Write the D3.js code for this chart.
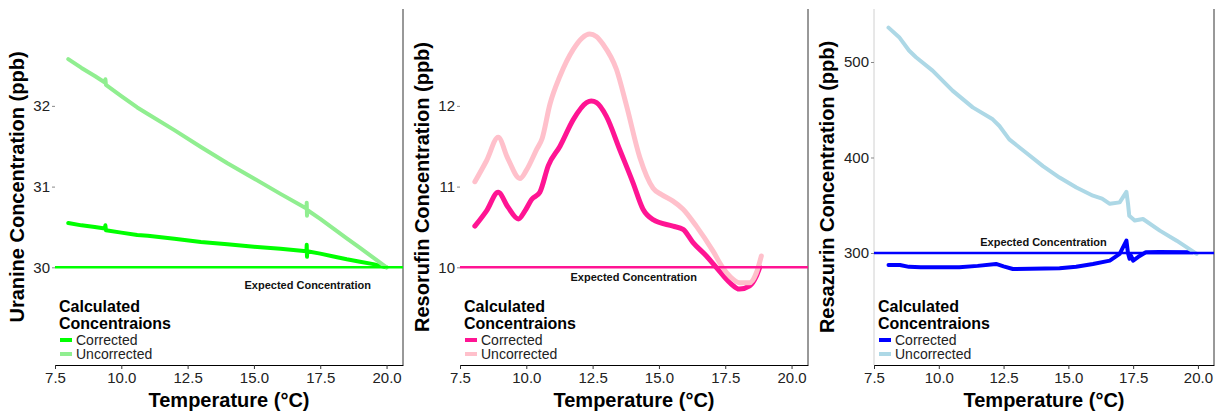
<!DOCTYPE html>
<html>
<head>
<meta charset="utf-8">
<script src="https://cdn.jsdelivr.net/npm/d3@7"></script>
<style>
    body { margin: 0; background: #fff; }
    svg { display: block; font-family: "Liberation Sans", Arial, sans-serif; }
    .tick text { font-size: 15px; fill: #222; }
</style>
</head>
<body>
<svg id="chart" width="1219" height="412"></svg>
<script>
// ---- data ----
const xTicks = [7.5, 10, 12.5, 15, 17.5, 20];
const seriesNames = ["Corrected", "Uncorrected"];

// Uranine
const uranineTemp = [8.0, 8.5, 9.0, 9.38, 9.4, 9.42, 10.0, 10.6, 11.0, 12.0, 13.0, 14.0, 15.0, 16.0, 16.98, 16.99, 17.0, 17.01, 17.5, 18.0, 18.5, 19.0, 19.5, 20.0];
const uranineCorrected = [30.55, 30.52, 30.5, 30.48, 30.52, 30.46, 30.43, 30.4, 30.39, 30.355, 30.315, 30.285, 30.255, 30.23, 30.2, 30.28, 30.13, 30.2, 30.17, 30.135, 30.1, 30.07, 30.04, 30.0];
const uranineUncorrected = [32.58, 32.47, 32.37, 32.29, 32.33, 32.26, 32.12, 31.98, 31.9, 31.7, 31.49, 31.29, 31.1, 30.91, 30.73, 30.8, 30.64, 30.71, 30.6, 30.48, 30.36, 30.24, 30.12, 30.0];
const uranineTicks = [30, 31, 32];

// Resorufin
const resorufinTempCorr = [8.06, 8.5, 8.94, 9.3, 9.7, 9.95, 10.2, 10.51, 10.83, 11.27, 11.77, 12.27, 12.45, 12.65, 13.02, 13.52, 14.02, 14.4, 14.78, 15.53, 15.91, 16.28, 16.79, 17.16, 17.67, 18.04, 18.42, 18.67, 18.8];
const resorufinCorrected = [10.51, 10.7, 10.93, 10.75, 10.6, 10.7, 10.84, 10.93, 11.26, 11.5, 11.83, 12.04, 12.06, 12.04, 11.87, 11.46, 11.05, 10.72, 10.59, 10.51, 10.47, 10.31, 10.14, 10.0, 9.81, 9.73, 9.77, 9.89, 10.0];
const resorufinTempUncorr = [8.06, 8.5, 8.94, 9.3, 9.76, 10.0, 10.39, 10.6, 10.89, 11.27, 11.77, 12.1, 12.39, 12.64, 12.9, 13.4, 13.78, 14.28, 14.78, 15.1, 15.53, 15.91, 16.41, 17.04, 17.4, 17.7, 18.04, 18.42, 18.67, 18.86];
const resorufinUncorrected = [11.06, 11.32, 11.61, 11.35, 11.1, 11.2, 11.46, 11.6, 12.02, 12.37, 12.7, 12.84, 12.89, 12.86, 12.76, 12.45, 12.0, 11.36, 10.98, 10.9, 10.82, 10.72, 10.51, 10.2, 10.0, 9.88, 9.81, 9.81, 9.93, 10.14];
const resorufinTicks = [10, 11, 12];

// Resazurin
const resazurinTempCorr = [8.06, 8.5, 8.85, 9.3, 10.79, 11.5, 12.21, 12.5, 12.86, 14.66, 15.3, 15.95, 16.6, 16.98, 17.24, 17.3, 17.36, 17.42, 17.5, 17.7, 17.99, 18.5, 19.8];
const resazurinCorrected = [287.4, 287.5, 285.5, 285, 285, 286.5, 288.5, 286, 283.2, 284, 285.5, 288.5, 292, 299, 313, 300, 294, 297, 292, 296, 300.7, 301, 300.8];
const resazurinTempUncorr = [8.06, 8.47, 8.85, 9.12, 9.76, 10.53, 11.31, 12.08, 12.34, 12.72, 13.37, 14.02, 14.66, 15.31, 15.95, 16.3, 16.6, 16.98, 17.24, 17.3, 17.35, 17.56, 17.88, 18.53, 19.18, 19.95];
const resazurinUncorrected = [536, 526, 512, 505, 491, 470, 452.5, 440, 433, 419, 405, 391, 379, 368.5, 360, 357, 351.5, 353, 364, 352, 339, 334, 335.6, 323.4, 312.9, 299];
const resazurinTicks = [300, 400, 500];

const expected = [30, 10, 300];

// ---- panel setup ----
const panels = [
    {
        left: 55, right: 403, yDomain: [28.79, 33.2], ticks: uranineTicks,
        label: "Uranine Concentration (ppb)", labelX: 17,
        colors: ["#00FF00", "#90EE90"], expected: expected[0],
        series: [[uranineTemp, uranineCorrected], [uranineTemp, uranineUncorrected]],
        note: [17.03, 29.78], leftLine: false, curve: d3.curveLinear, width: 4
    },
    {
        left: 460, right: 808, yDomain: [8.79, 13.2], ticks: resorufinTicks,
        label: "Resorufin Concentration (ppb)", labelX: 422,
        colors: ["#FF1493", "#FFC0CB"], expected: expected[1],
        series: [[resorufinTempCorr, resorufinCorrected], [resorufinTempUncorr, resorufinUncorrected]],
        note: [14.05, 9.885], leftLine: false, curve: d3.curveMonotoneX, width: 5
    },
    {
        left: 874, right: 1214, yDomain: [182.7, 555.5], ticks: resazurinTicks,
        label: "Resazurin Concentration (ppb)", labelX: 827,
        colors: ["#0000FF", "#ADD8E6"], expected: expected[2],
        series: [[resazurinTempCorr, resazurinCorrected], [resazurinTempUncorr, resazurinUncorrected]],
        note: [14.04, 311.5], leftLine: true, curve: d3.curveLinear, width: 4
    }
];

const plotTop = 9, plotBottom = 365;
const svg = d3.select("#chart");

panels.forEach(p => {
    let g = svg.append("g");

    let x = d3.scaleLinear().domain([7.5, 20.62]).range([p.left, p.right]);
    let y = d3.scaleLinear().domain(p.yDomain).range([plotBottom, plotTop]);

    // axes
    let xAxis = g.append("g")
        .attr("transform", `translate(0,${plotBottom})`)
        .call(d3.axisBottom(x).tickValues(xTicks).tickFormat(d3.format(".1f")).tickSize(4).tickSizeOuter(0).tickPadding(3));
    xAxis.select(".domain").attr("stroke", "#000");
    xAxis.selectAll(".tick line").attr("stroke", "#333");

    let yAxis = g.append("g")
        .attr("transform", `translate(${p.left},0)`)
        .call(d3.axisLeft(y).tickValues(p.ticks).tickFormat(d3.format("d")).tickSize(3).tickPadding(2).tickSizeOuter(0));
    yAxis.selectAll(".tick line").attr("stroke", "#888");
    if (p.leftLine) {
        yAxis.select(".domain").attr("stroke", "#d0d0d0").attr("d", `M0,${plotTop}V${plotBottom}`);
    } else {
        yAxis.select(".domain").remove();
    }

    // right border
    g.append("line")
        .attr("x1", p.right).attr("x2", p.right)
        .attr("y1", plotTop).attr("y2", plotBottom)
        .attr("stroke", "#333").attr("stroke-width", 1);

    // data lines
    let line = d3.line().curve(p.curve).x(d => x(d[0])).y(d => y(d[1]));
    p.series.forEach((s, i) => {
        let pts = s[0].map((t, k) => [t, s[1][k]]);
        g.append("path")
            .attr("d", line(pts))
            .attr("fill", "none")
            .attr("stroke", p.colors[i])
            .attr("stroke-width", p.width)
            .attr("stroke-linejoin", "round")
            .attr("stroke-linecap", "round");
    });

    // expected concentration line
    g.append("line")
        .attr("x1", p.left).attr("x2", p.right)
        .attr("y1", y(p.expected)).attr("y2", y(p.expected))
        .attr("stroke", p.colors[0]).attr("stroke-width", 2.5);

    g.append("text")
        .attr("x", x(p.note[0])).attr("y", y(p.note[1]))
        .attr("text-anchor", "middle").attr("dominant-baseline", "central")
        .attr("font-size", 11).attr("font-weight", "bold").attr("fill", "#111")
        .text("Expected Concentration");

    // axis titles
    g.append("text")
        .attr("transform", `translate(${p.labelX},${(plotTop + plotBottom) / 2}) rotate(-90)`)
        .attr("text-anchor", "middle").attr("dominant-baseline", "central")
        .attr("font-size", 20).attr("font-weight", "bold").attr("fill", "#000")
        .text(p.label);

    g.append("text")
        .attr("x", (p.left + p.right) / 2).attr("y", 400)
        .attr("text-anchor", "middle").attr("dominant-baseline", "central")
        .attr("font-size", 20).attr("font-weight", "bold").attr("fill", "#000")
        .text("Temperature (°C)");

    // legend
    let lg = g.append("g").attr("transform", `translate(${p.left + 4},0)`);
    lg.append("text").attr("x", 0).attr("y", 306).attr("dominant-baseline", "central")
        .attr("font-size", 16).attr("font-weight", "bold").text("Calculated");
    lg.append("text").attr("x", 0).attr("y", 323).attr("dominant-baseline", "central")
        .attr("font-size", 16).attr("font-weight", "bold").text("Concentraions");
    seriesNames.forEach((name, i) => {
        let yy = 340 + i * 14;
        lg.append("line")
            .attr("x1", 1).attr("x2", 13).attr("y1", yy).attr("y2", yy)
            .attr("stroke", p.colors[i]).attr("stroke-width", 4);
        lg.append("text").attr("x", 17).attr("y", yy).attr("dominant-baseline", "central")
            .attr("font-size", 14).attr("fill", "#222").text(name);
    });
});
</script>
</body>
</html>
